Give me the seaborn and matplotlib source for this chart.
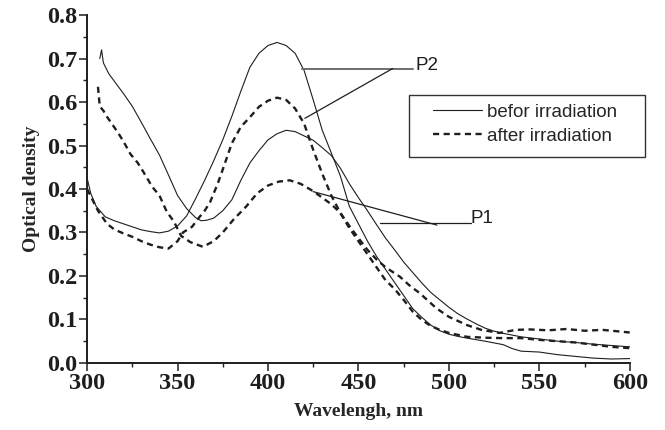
import pandas as pd
import seaborn as sns
import matplotlib.pyplot as plt
from matplotlib.lines import Line2D
from matplotlib.patches import Rectangle
from matplotlib.ticker import MultipleLocator

# P2, before irradiation (solid)
wl_p2_before = [300, 302, 305, 310, 315, 320, 325, 330, 335, 340, 345, 350, 355, 360, 365,
                370, 375, 380, 385, 390, 395, 400, 405, 410, 415, 420, 425, 430, 435, 440,
                445, 450, 455, 460, 465, 470, 475, 480, 485, 490, 495, 500, 505, 510, 520,
                530, 535, 540, 550, 560, 570, 580, 590, 600]
od_p2_before = [0.425, 0.39, 0.36, 0.336, 0.327, 0.32, 0.313, 0.306, 0.302, 0.299, 0.303, 0.315,
                0.338, 0.378, 0.42, 0.465, 0.513, 0.567, 0.625, 0.68, 0.712, 0.73, 0.737, 0.73,
                0.712, 0.672, 0.605, 0.535, 0.483, 0.43, 0.36, 0.32, 0.28, 0.245, 0.215, 0.185,
                0.155, 0.125, 0.105, 0.087, 0.074, 0.066, 0.061, 0.057, 0.05, 0.042, 0.033,
                0.027, 0.025, 0.019, 0.015, 0.011, 0.009, 0.01]

# P1, before irradiation (solid)
wl_p1_before = [307, 308, 309, 312, 315, 320, 325, 330, 335, 340, 345, 350, 355, 360, 363, 366,
                370, 375, 380, 385, 390, 395, 400, 405, 410, 415, 420, 425, 430, 435, 440, 445,
                450, 455, 460, 465, 470, 475, 480, 485, 490, 495, 500, 505, 510, 515, 520, 525,
                530, 540, 550, 560, 570, 580, 590, 600]
od_p1_before = [0.70, 0.72, 0.69, 0.665, 0.648, 0.62, 0.59, 0.553, 0.515, 0.478, 0.432, 0.385,
                0.355, 0.334, 0.327, 0.328, 0.333, 0.35, 0.375, 0.42, 0.46, 0.488, 0.513, 0.527,
                0.535, 0.532, 0.522, 0.512, 0.495, 0.477, 0.448, 0.412, 0.38, 0.35, 0.318, 0.287,
                0.26, 0.232, 0.208, 0.184, 0.162, 0.145, 0.128, 0.113, 0.101, 0.09, 0.08, 0.073,
                0.068, 0.06, 0.055, 0.05, 0.047, 0.043, 0.04, 0.037]

# P2, after irradiation (dashed)
wl_p2_after = [300, 303, 306, 311, 315, 320, 325, 330, 335, 340, 345, 350, 353, 358, 362, 365,
               368, 372, 375, 380, 385, 390, 395, 400, 405, 410, 415, 420, 425, 430, 435, 440,
               445, 450, 455, 460, 465, 470, 475, 480, 485, 490, 495, 500, 510, 520, 530, 540,
               550, 560, 570, 580, 590, 600]
od_p2_after = [0.40, 0.375, 0.35, 0.32, 0.307, 0.298, 0.29, 0.28, 0.272, 0.266, 0.263, 0.28,
               0.30, 0.313, 0.335, 0.35, 0.37, 0.41, 0.445, 0.505, 0.543, 0.565, 0.589, 0.603,
               0.61, 0.605, 0.585, 0.55, 0.49, 0.435, 0.385, 0.345, 0.31, 0.28, 0.25, 0.22,
               0.19, 0.17, 0.145, 0.118, 0.099, 0.085, 0.076, 0.069, 0.06, 0.058, 0.057, 0.057,
               0.053, 0.05, 0.047, 0.042, 0.037, 0.034]

# P1, after irradiation (dashed)
wl_p1_after = [306, 307, 309, 311, 314, 317, 320, 324, 328, 331, 336, 340, 344, 348, 352, 357,
               364, 370, 375, 381, 388, 394, 400, 406, 412, 418, 425, 430, 435, 440, 445, 450,
               455, 460, 465, 473, 478, 484, 493, 500, 510, 518, 528, 537, 545, 555, 565, 575,
               585, 595, 600]
od_p1_after = [0.635, 0.59, 0.58, 0.566, 0.548, 0.53, 0.51, 0.48, 0.46, 0.44, 0.405, 0.385,
               0.348, 0.325, 0.292, 0.278, 0.267, 0.28, 0.30, 0.33, 0.36, 0.39, 0.408, 0.417,
               0.42, 0.412, 0.395, 0.38, 0.365, 0.345, 0.315, 0.287, 0.26, 0.238, 0.22, 0.198,
               0.179, 0.16, 0.126, 0.106, 0.087, 0.076, 0.069, 0.076, 0.077, 0.075, 0.078,
               0.074, 0.076, 0.072, 0.07]

legend_labels = ['befor irradiation', 'after irradiation']

INK = '#1e1e1e'
DASH = (2.6, 1.9)

sns.set_style('ticks')
plt.rcParams['font.family'] = ['Liberation Serif', 'DejaVu Serif']

fig = plt.figure(figsize=(6.65, 4.3), dpi=100)
ax = fig.add_axes([0.131, 0.156, 0.816, 0.809])

solid = dict(color=INK, lw=0.8)
dashed = dict(color=INK, lw=1.7)

sns.lineplot(x=wl_p2_before, y=od_p2_before, ax=ax, **solid)
sns.lineplot(x=wl_p1_before, y=od_p1_before, ax=ax, **solid)
sns.lineplot(x=wl_p2_after, y=od_p2_after, ax=ax, dashes=False, **dashed)
sns.lineplot(x=wl_p1_after, y=od_p1_after, ax=ax, dashes=False, **dashed)
for ln in ax.lines[2:]:
    ln.set_dashes(DASH)

ax.set_xlim(300, 600)
ax.set_ylim(0, 0.8)
ax.xaxis.set_major_locator(MultipleLocator(50))
ax.xaxis.set_minor_locator(MultipleLocator(25))
ax.yaxis.set_major_locator(MultipleLocator(0.1))
ax.yaxis.set_minor_locator(MultipleLocator(0.05))
ax.yaxis.set_major_formatter(lambda v, p: f'{v:.1f}')

sns.despine(ax=ax)
for side in ['left', 'bottom']:
    ax.spines[side].set_linewidth(1.4)
    ax.spines[side].set_color(INK)
ax.tick_params(which='major', length=5.5, width=1.1, color=INK, labelsize=17.5, pad=1.5,
               labelcolor=INK)
ax.tick_params(which='minor', length=3.2, width=1.0, color=INK)
for lab in ax.get_xticklabels() + ax.get_yticklabels():
    lab.set_fontweight('bold')

ax.set_xlabel('Wavelengh, nm', fontsize=14, fontweight='bold', labelpad=7)
ax.set_ylabel('Optical density', fontsize=14, fontweight='bold', labelpad=5)

# P2 / P1 leader lines
ax.plot([418.6, 480.3], [0.677, 0.677], color='#6e6e6e', lw=1.4)
ax.plot([468.9, 420.4], [0.677, 0.5625], color=INK, lw=0.9)
ax.text(481.8, 0.684, 'P2', family='Liberation Sans', fontsize=13.5, color=INK, va='center')
ax.plot([461.9, 512.2], [0.322, 0.322], color=INK, lw=0.9)
ax.plot([424.9, 493.4], [0.394, 0.317], color=INK, lw=0.9)
ax.text(512.0, 0.333, 'P1', family='Liberation Sans', fontsize=13.5, color=INK, va='center')

# legend
handles = [Line2D([], [], color=INK, lw=0.8),
           Line2D([], [], color=INK, lw=1.7, dashes=DASH)]
ax.legend(handles, legend_labels, loc='upper left', bbox_to_anchor=(0.637, 0.745),
          borderaxespad=0, frameon=False, handlelength=2.6, handletextpad=0.28,
          labelspacing=0.35, borderpad=0,
          prop={'family': 'Liberation Sans', 'size': 13.5})
ax.add_patch(Rectangle((0.593, 0.592), 0.436, 0.178, transform=ax.transAxes,
                       fill=False, lw=1.0, edgecolor='#333333', clip_on=False))

fig.savefig('out.png', dpi=100)
